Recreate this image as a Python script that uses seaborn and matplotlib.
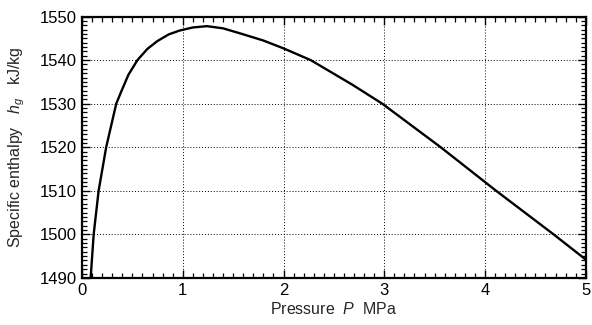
import numpy as np
import pandas as pd
import seaborn as sns
import matplotlib.pyplot as plt
from matplotlib.ticker import MultipleLocator

# values
pressure = [0.086, 0.116, 0.165, 0.24, 0.34, 0.39, 0.46, 0.55, 0.65, 0.75,
            0.86, 0.97, 1.1, 1.24, 1.4, 1.59, 1.8, 2.0, 2.27, 2.68, 2.98,
            3.56, 4.11, 4.68, 5.0]
enthalpy = [1490.0, 1500.0, 1510.0, 1520.0, 1530.0, 1532.8, 1536.6, 1540.0,
            1542.6, 1544.4, 1545.9, 1546.8, 1547.5, 1547.8, 1547.3, 1546.0,
            1544.5, 1542.7, 1540.0, 1534.4, 1530.0, 1520.0, 1510.0, 1500.0,
            1494.2]

x_ticks = [0, 1, 2, 3, 4, 5]
y_ticks = [1490, 1500, 1510, 1520, 1530, 1540, 1550]

sns.set_style("ticks")
plt.rcParams['font.family'] = ['Liberation Sans', 'DejaVu Sans']
plt.rcParams['mathtext.fontset'] = 'custom'
plt.rcParams['mathtext.it'] = 'Liberation Sans:italic'
plt.rcParams['mathtext.rm'] = 'Liberation Sans'

df = pd.DataFrame({'P': pressure, 'h': enthalpy})

fig = plt.figure(figsize=(5.92, 3.25), dpi=100)
ax = fig.add_axes([0.1385, 0.145, 0.851, 0.804])

sns.lineplot(data=df, x='P', y='h', color='black', linewidth=1.7, sort=False, ax=ax)

ax.set_xlim(0, 5)
ax.set_ylim(1490, 1550)
ax.set_xticks(x_ticks)
ax.set_yticks(y_ticks)
ax.xaxis.set_minor_locator(MultipleLocator(0.1))
ax.yaxis.set_minor_locator(MultipleLocator(1))

ax.grid(True, which='major', color='black', linestyle=(0, (1, 2)), linewidth=0.7)

ax.tick_params(which='both', direction='in', top=True, right=True, colors='black',
               labelsize=12, pad=4)
ax.tick_params(which='major', length=6, width=1.0)
ax.tick_params(which='minor', length=3.5, width=0.9)

for spine in ax.spines.values():
    spine.set_linewidth(1.6)
    spine.set_color('black')

ax.set_xlabel(r'Pressure  $P$  MPa', fontsize=11.5, labelpad=2)
ax.set_ylabel(r'Specific enthalpy   $h_g$   kJ/kg', fontsize=11.5, labelpad=9)

fig.savefig('out.png', dpi=100)
